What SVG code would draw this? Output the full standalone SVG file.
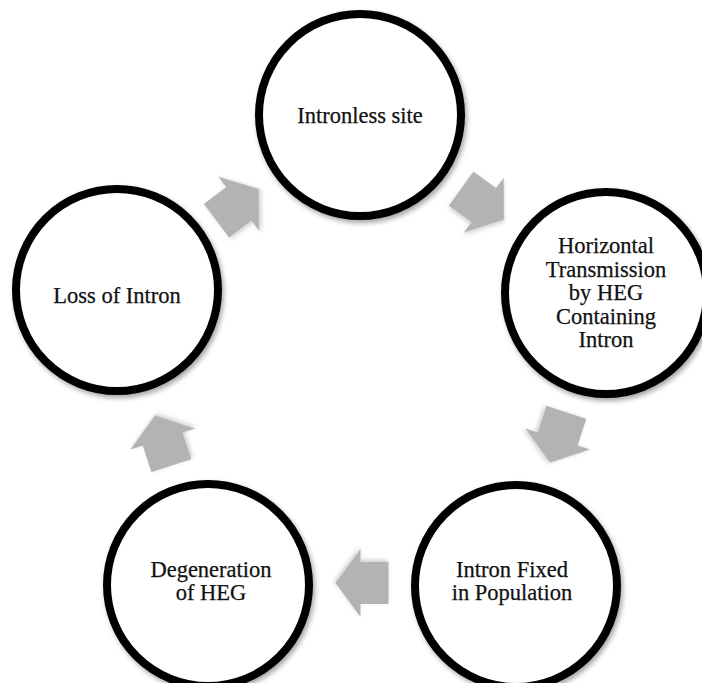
<svg xmlns="http://www.w3.org/2000/svg" width="702" height="683" viewBox="0 0 702 683">
  <defs>
    <filter id="sh" x="-20%" y="-20%" width="140%" height="140%">
      <feDropShadow dx="2" dy="3" stdDeviation="2.5" flood-color="#000" flood-opacity="0.35"/>
    </filter>
    <filter id="ash" x="-20%" y="-20%" width="140%" height="140%">
      <feDropShadow dx="1" dy="2" stdDeviation="2" flood-color="#000" flood-opacity="0.2"/>
    </filter>
    <polygon id="arr" points="-27,-21 1,-21 1,-34 26,0 1,34 1,21 -27,21"/>
  </defs>
  <style>
    .node circle { fill: #ffffff; stroke: #000000; stroke-width: 8; filter: url(#sh); }
    .node text { font-family: "Liberation Serif", "DejaVu Serif", serif; font-size: 22.5px; fill: #111111; text-anchor: middle; stroke: #111111; stroke-width: 0.25; }
    #connectors use { fill: #b3b3b3; filter: url(#ash); }
  </style>
  <rect width="702" height="683" fill="#ffffff"/>
  <g id="connectors">
    <use href="#arr" transform="translate(238,204.5) rotate(-37)"/>
    <use href="#arr" transform="translate(483,204.5) rotate(36)"/>
    <use href="#arr" transform="translate(558,438) rotate(108)"/>
    <use href="#arr" transform="translate(361.5,583) rotate(180)"/>
    <use href="#arr" transform="translate(163,440) rotate(252)"/>
  </g>
  <g id="node-intronless" class="node">
    <circle cx="360" cy="115" r="101"/>
    <text x="360" y="123">Intronless site</text>
  </g>
  <g id="node-horizontal" class="node">
    <circle cx="606" cy="293" r="101"/>
    <text x="606" y="253">Horizontal</text>
    <text x="606" y="277">Transmission</text>
    <text x="606" y="300">by HEG</text>
    <text x="606" y="324">Containing</text>
    <text x="606" y="347">Intron</text>
  </g>
  <g id="node-fixed" class="node">
    <circle cx="516" cy="586" r="101"/>
    <text x="512" y="577">Intron Fixed</text>
    <text x="512" y="600">in Population</text>
  </g>
  <g id="node-degeneration" class="node">
    <circle cx="208" cy="585" r="101"/>
    <text x="211" y="577">Degeneration</text>
    <text x="211" y="600">of HEG</text>
  </g>
  <g id="node-loss" class="node">
    <circle cx="117" cy="290" r="101"/>
    <text x="117" y="303">Loss of Intron</text>
  </g>
</svg>
